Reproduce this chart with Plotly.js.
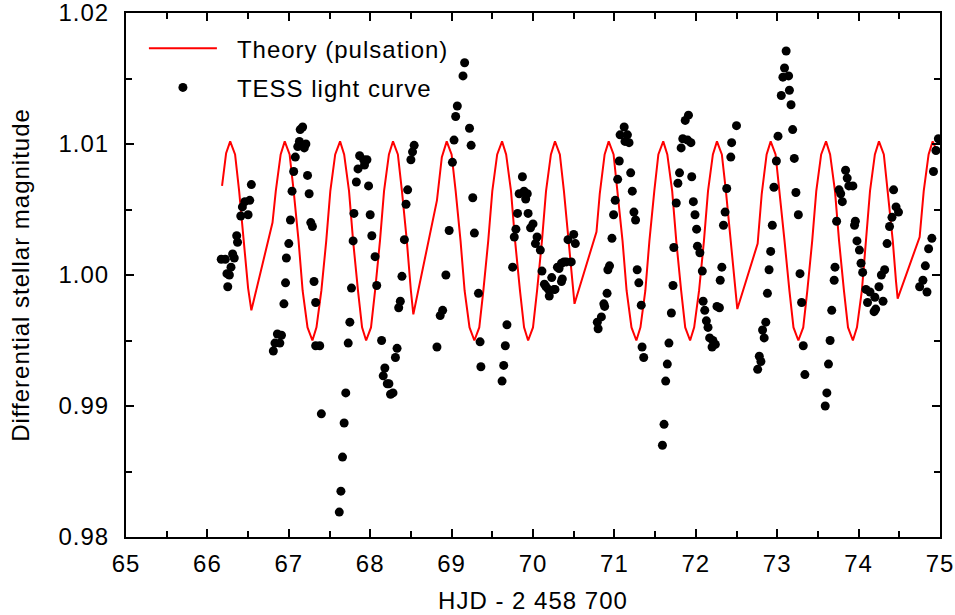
<!DOCTYPE html>
<html>
<head>
<meta charset="utf-8">
<script src="https://cdn.plot.ly/plotly-3.0.1.min.js"></script>
<style>
  html, body { margin: 0; padding: 0; background: #fff; }
  #chart { width: 955px; height: 615px; }
  svg text { letter-spacing: 1px; }
  .legend .legendtext { transform: translate(15px, 0px); }
  .legend [clip-path] { clip-path: none !important; }
</style>
</head>
<body>
<div id="chart"></div>
<script>
// ---- Theory (pulsation) model curve ----
const theoryTime = [
  66.18, 66.23, 66.28, 66.34, 66.39, 66.45, 66.50, 66.54,
  66.80, 66.84, 66.90, 66.95, 67.01, 67.06, 67.12, 67.17, 67.23, 67.29, 67.34, 67.40, 67.46, 67.51, 67.57, 67.63,
  67.68, 67.74, 67.79, 67.85, 67.90, 67.95, 68.01, 68.06, 68.12, 68.17, 68.23, 68.28, 68.34, 68.39, 68.45, 68.50, 68.53,
  68.82, 68.88, 68.94, 69.00, 69.05, 69.11, 69.16, 69.22, 69.28, 69.34, 69.39, 69.45, 69.50, 69.56, 69.62,
  69.67, 69.73, 69.78, 69.84, 69.89, 69.94, 70.00, 70.05, 70.11, 70.16, 70.22, 70.27, 70.33, 70.38, 70.44, 70.48, 70.51,
  70.78, 70.82, 70.88, 70.93, 70.99, 71.04, 71.10, 71.15, 71.21, 71.27, 71.32, 71.38, 71.43, 71.49, 71.54, 71.60,
  71.65, 71.71, 71.76, 71.82, 71.87, 71.93, 71.98, 72.04, 72.10, 72.15, 72.21, 72.26, 72.32, 72.37, 72.43, 72.48, 72.51,
  72.76, 72.81, 72.87, 72.92, 72.98, 73.03, 73.09, 73.15, 73.20, 73.26, 73.32, 73.37, 73.43, 73.48, 73.54, 73.60,
  73.65, 73.71, 73.76, 73.82, 73.87, 73.93, 73.98, 74.04, 74.09, 74.14, 74.20, 74.25, 74.31, 74.36, 74.42, 74.46, 74.48,
  74.75, 74.80, 74.86, 74.91, 74.96
];
const theoryMag = [
  1.0068, 1.0093, 1.0102, 1.0092, 1.0064, 1.0026, 0.9990, 0.9973,
  1.0040, 1.0064, 1.0092, 1.0102, 1.0092, 1.0064, 1.0026, 0.9988, 0.9960, 0.9950, 0.9960, 0.9988, 1.0026, 1.0064, 1.0092, 1.0102,
  1.0092, 1.0064, 1.0026, 0.9988, 0.9960, 0.9950, 0.9960, 0.9988, 1.0026, 1.0064, 1.0092, 1.0102, 1.0092, 1.0064, 1.0026, 0.9988, 0.9970,
  1.0057, 1.0090, 1.0102, 1.0092, 1.0064, 1.0026, 0.9988, 0.9960, 0.9950, 0.9960, 0.9988, 1.0026, 1.0064, 1.0092, 1.0102,
  1.0092, 1.0064, 1.0026, 0.9988, 0.9960, 0.9950, 0.9960, 0.9988, 1.0026, 1.0064, 1.0092, 1.0102, 1.0092, 1.0064, 1.0026, 0.9995, 0.9978,
  1.0033, 1.0062, 1.0092, 1.0102, 1.0092, 1.0064, 1.0026, 0.9988, 0.9960, 0.9950, 0.9960, 0.9988, 1.0026, 1.0064, 1.0092, 1.0102,
  1.0092, 1.0064, 1.0026, 0.9988, 0.9960, 0.9950, 0.9960, 0.9988, 1.0026, 1.0064, 1.0092, 1.0102, 1.0092, 1.0064, 1.0026, 0.9990, 0.9974,
  1.0024, 1.0062, 1.0092, 1.0102, 1.0092, 1.0064, 1.0026, 0.9988, 0.9960, 0.9950, 0.9960, 0.9988, 1.0026, 1.0064, 1.0092, 1.0102,
  1.0092, 1.0064, 1.0026, 0.9988, 0.9960, 0.9950, 0.9960, 0.9988, 1.0026, 1.0064, 1.0092, 1.0102, 1.0092, 1.0064, 1.0026, 0.9995, 0.9982,
  1.0029, 1.0064, 1.0092, 1.0102, 1.0095
];

// ---- TESS light curve points ----
const tessTime = [
  66.17, 66.22, 66.24, 66.25, 66.27, 66.29, 66.31, 66.33, 66.36, 66.37, 66.41, 66.43, 66.46, 66.50, 66.52, 66.54,
  66.81, 66.83, 66.86, 66.89, 66.91, 66.94, 66.96, 66.97, 67.00, 67.02, 67.04, 67.06, 67.08, 67.11, 67.13, 67.14,
  67.17, 67.19, 67.21, 67.23, 67.25, 67.27, 67.29, 67.31, 67.33, 67.33, 67.38, 67.40,
  67.62, 67.64, 67.66, 67.68, 67.70, 67.73, 67.75, 67.77, 67.79, 67.80, 67.83, 67.85, 67.87, 67.92, 67.93, 67.96,
  67.98, 68.00, 68.02, 68.06, 68.08, 68.14, 68.16, 68.18, 68.21, 68.23, 68.25, 68.28, 68.31, 68.33, 68.35, 68.37,
  68.39, 68.42, 68.44, 68.46, 68.50, 68.52, 68.54,
  68.82, 68.86, 68.89, 68.93, 68.97, 69.01, 69.03, 69.05, 69.07, 69.14, 69.16, 69.22, 69.24, 69.26, 69.28, 69.33,
  69.35, 69.36,
  69.62, 69.64, 69.66, 69.68, 69.75, 69.77, 69.79, 69.81, 69.83, 69.87, 69.89, 69.91, 69.93, 69.94, 69.97, 70.00,
  70.03, 70.05, 70.09, 70.11, 70.14, 70.16, 70.19, 70.20, 70.23, 70.26, 70.27, 70.30, 70.32, 70.35, 70.35, 70.36,
  70.38, 70.41, 70.43, 70.47, 70.50, 70.52,
  70.79, 70.80, 70.84, 70.87, 70.88, 70.91, 70.92, 70.94, 70.97, 70.99, 71.01, 71.04, 71.06, 71.07, 71.12, 71.13,
  71.16, 71.18, 71.20, 71.22, 71.24, 71.26, 71.28, 71.30, 71.33, 71.34, 71.36,
  71.59, 71.61, 71.63, 71.65, 71.67, 71.70, 71.72, 71.73, 71.76, 71.78, 71.80, 71.82, 71.84, 71.87, 71.90, 71.91,
  71.94, 71.95, 71.97, 71.99, 72.01, 72.02, 72.05, 72.08, 72.09, 72.11, 72.13, 72.15, 72.17, 72.20, 72.21, 72.24,
  72.26, 72.29, 72.30, 72.32, 72.34, 72.36, 72.38, 72.43, 72.44, 72.50,
  72.76, 72.78, 72.80, 72.82, 72.84, 72.86, 72.88, 72.90, 72.92, 72.94, 72.96, 72.99, 73.01, 73.05, 73.07, 73.09,
  73.11, 73.14, 73.15, 73.17, 73.19, 73.21, 73.23, 73.26, 73.28, 73.30, 73.32, 73.34,
  73.59, 73.61, 73.63, 73.65, 73.67, 73.70, 73.71, 73.73, 73.76, 73.78, 73.80, 73.84, 73.86, 73.88, 73.93, 73.95,
  73.96, 73.98, 74.01, 74.03, 74.05, 74.09, 74.11, 74.14, 74.19, 74.20, 74.21, 74.25, 74.28, 74.30, 74.32, 74.35,
  74.38, 74.41, 74.43, 74.46, 74.49,
  74.75, 74.79, 74.82, 74.84, 74.86, 74.90, 74.92, 74.95, 74.98
];
const tessMag = [
  1.0012, 1.0012, 1.0001, 0.9991, 1.0000, 1.0006, 1.0016, 1.0013, 1.0030, 1.0025, 1.0045, 1.0052, 1.0056, 1.0046, 1.0057, 1.0069,
  0.9942, 0.9948, 0.9955, 0.9948, 0.9954, 0.9978, 0.9994, 1.0013, 1.0024, 1.0042, 1.0064, 1.0079, 1.0090, 1.0098, 1.0102, 1.0111,
  1.0113, 1.0097, 1.0100, 1.0076, 1.0062, 1.0040, 1.0037, 0.9995, 0.9979, 0.9946, 0.9946, 0.9894,
  0.9819, 0.9835, 0.9861, 0.9887, 0.9910, 0.9948, 0.9964, 0.9990, 1.0026, 1.0047, 1.0071, 1.0081, 1.0091, 1.0088, 1.0084, 1.0088,
  1.0068, 1.0046, 1.0030, 1.0014, 0.9992, 0.9950, 0.9923, 0.9929, 0.9917, 0.9917, 0.9909, 0.9910, 0.9937, 0.9944, 0.9975, 0.9980,
  0.9999, 1.0027, 1.0054, 1.0065, 1.0088, 1.0094, 1.0099,
  0.9945, 0.9969, 0.9973, 1.0000, 1.0034, 1.0086, 1.0103, 1.0121, 1.0129, 1.0152, 1.0162, 1.0112, 1.0099, 1.0059, 1.0032, 0.9986,
  0.9949, 0.9930,
  0.9919, 0.9931, 0.9946, 0.9962, 1.0006, 1.0029, 1.0035, 1.0047, 1.0062, 1.0075, 1.0064, 1.0058, 1.0062, 1.0047, 1.0036, 1.0039,
  1.0024, 1.0029, 1.0019, 1.0003, 0.9993, 0.9991, 0.9989, 0.9984, 0.9998, 0.9989, 0.9989, 1.0006, 1.0005, 1.0009, 0.9995, 0.9997,
  1.0010, 1.0010, 1.0027, 1.0010, 1.0031, 1.0024,
  0.9964, 0.9959, 0.9968, 0.9978, 0.9976, 0.9986, 1.0004, 1.0007, 1.0028, 1.0046, 1.0057, 1.0073, 1.0087, 1.0107, 1.0113, 1.0102,
  1.0107, 1.0101, 1.0078, 1.0064, 1.0048, 1.0042, 1.0004, 0.9994, 0.9977, 0.9945, 0.9937,
  0.9870, 0.9886, 0.9919, 0.9932, 0.9948, 0.9971, 0.9992, 1.0021, 1.0055, 1.0070, 1.0078, 1.0097, 1.0104, 1.0118, 1.0103, 1.0122,
  1.0101, 1.0075, 1.0056, 1.0046, 1.0035, 1.0022, 1.0017, 1.0003, 0.9980, 0.9973, 0.9965, 0.9960, 0.9952, 0.9945, 0.9950, 0.9947,
  0.9976, 0.9975, 0.9996, 1.0006, 1.0038, 1.0048, 1.0066, 1.0090, 1.0101, 1.0114,
  0.9928, 0.9938, 0.9934, 0.9958, 0.9952, 0.9964, 0.9986, 1.0004, 1.0018, 1.0038, 1.0067, 1.0087, 1.0106, 1.0137, 1.0151, 1.0158,
  1.0171, 1.0152, 1.0141, 1.0130, 1.0111, 1.0089, 1.0063, 1.0046, 1.0001, 0.9979, 0.9946, 0.9924,
  0.9900, 0.9910, 0.9932, 0.9950, 0.9973, 0.9996, 1.0006, 1.0041, 1.0065, 1.0062, 1.0056, 1.0080, 1.0074, 1.0068, 1.0068, 1.0038,
  1.0041, 1.0026, 1.0019, 1.0009, 1.0002, 0.9989, 0.9979, 0.9987, 0.9972, 0.9983, 0.9974, 0.9991, 1.0000, 0.9980, 1.0004, 1.0024,
  1.0037, 1.0044, 1.0065, 1.0052, 1.0048,
  0.9991, 0.9996, 1.0007, 0.9987, 1.0020, 1.0028, 1.0079, 1.0095, 1.0104
];

// ---- axis ticks ----
const xTickVals = [65, 66, 67, 68, 69, 70, 71, 72, 73, 74, 75];
const yTickVals = [0.98, 0.99, 1.00, 1.01, 1.02];
const yTickText = ['0.98', '0.99', '1.00', '1.01', '1.02'];

const FONT = 'Liberation Sans, Arial, Helvetica, sans-serif';

const traces = [
  {
    x: theoryTime, y: theoryMag, type: 'scatter', mode: 'lines',
    name: 'Theory (pulsation)', legendgroup: 'a',
    line: { color: '#ff0000', width: 2 }
  },
  {
    x: tessTime, y: tessMag, type: 'scatter', mode: 'markers',
    name: 'TESS light curve', legendgroup: 'b',
    marker: { color: '#000000', size: 9 }
  }
];

const axisCommon = {
  showgrid: false, zeroline: false,
  showline: true, linecolor: '#000', linewidth: 2,
  mirror: 'ticks', ticks: 'inside', ticklen: 8, tickwidth: 2, tickcolor: '#000',
  ticklabeloverflow: 'allow',
  tickfont: { family: FONT, size: 24, color: '#000' }
};

const layout = {
  width: 955, height: 615,
  margin: { l: 126, r: 15, t: 13, b: 78 },
  paper_bgcolor: '#fff', plot_bgcolor: '#fff',
  showlegend: true,
  legend: {
    x: 0.022, y: 0.975, xanchor: 'left', yanchor: 'top',
    bgcolor: 'rgba(0,0,0,0)', borderwidth: 0,
    font: { family: FONT, size: 24, color: '#000' },
    itemwidth: 68, tracegroupgap: 5, traceorder: 'grouped'
  },
  xaxis: Object.assign({}, axisCommon, {
    range: [65, 75], tickvals: xTickVals, ticktext: xTickVals.map(String),
    minor: { dtick: 0.5, tick0: 65, ticks: 'inside', ticklen: 6, tickwidth: 2, tickcolor: '#000' },
    ticklabelstandoff: 4,
    title: { text: 'HJD - 2 458 700', font: { family: FONT, size: 24, color: '#000' }, standoff: 16 }
  }),
  yaxis: Object.assign({}, axisCommon, {
    range: [0.98, 1.02], tickvals: yTickVals, ticktext: yTickText,
    minor: { dtick: 0.005, tick0: 0.98, ticks: 'inside', ticklen: 6, tickwidth: 2, tickcolor: '#000' },
    ticklabelstandoff: 10,
    title: { text: 'Differential stellar magnitude', font: { family: FONT, size: 24, color: '#000' }, standoff: 22 }
  })
};

Plotly.newPlot('chart', traces, layout, { displayModeBar: false, staticPlot: true });
</script>
</body>
</html>
